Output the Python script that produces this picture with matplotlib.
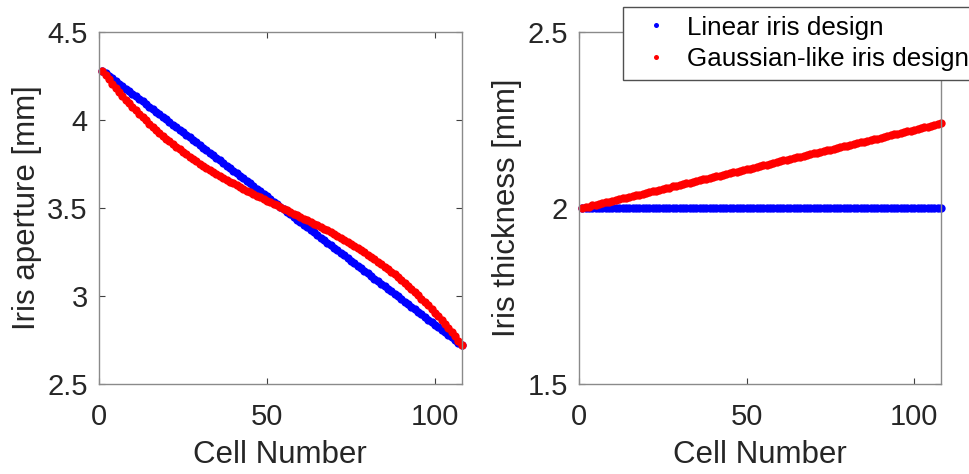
import numpy as np
import matplotlib
matplotlib.use('Agg')
import matplotlib.pyplot as plt

plt.rcParams['font.family'] = ['Liberation Sans', 'DejaVu Sans']

cells = list(range(1, 109))

# iris aperture [mm]
aperture_linear = [
    4.280, 4.265, 4.251, 4.236, 4.222, 4.207, 4.193, 4.178, 4.163, 4.149,
    4.134, 4.120, 4.105, 4.090, 4.076, 4.061, 4.047, 4.032, 4.018, 4.003,
    3.988, 3.974, 3.959, 3.945, 3.930, 3.916, 3.901, 3.886, 3.872, 3.857,
    3.843, 3.828, 3.813, 3.799, 3.784, 3.770, 3.755, 3.741, 3.726, 3.711,
    3.697, 3.682, 3.668, 3.653, 3.639, 3.624, 3.609, 3.595, 3.580, 3.566,
    3.551, 3.536, 3.522, 3.507, 3.493, 3.478, 3.464, 3.449, 3.434, 3.420,
    3.405, 3.391, 3.376, 3.362, 3.347, 3.332, 3.318, 3.303, 3.289, 3.274,
    3.259, 3.245, 3.230, 3.216, 3.201, 3.187, 3.172, 3.157, 3.143, 3.128,
    3.114, 3.099, 3.085, 3.070, 3.055, 3.041, 3.026, 3.012, 2.997, 2.982,
    2.968, 2.953, 2.939, 2.924, 2.910, 2.895, 2.880, 2.866, 2.851, 2.837,
    2.822, 2.807, 2.793, 2.778, 2.764, 2.749, 2.735, 2.720]

aperture_gauss = [
    4.280, 4.255, 4.230, 4.206, 4.183, 4.160, 4.138, 4.116, 4.095, 4.074,
    4.054, 4.035, 4.015, 3.997, 3.978, 3.961, 3.943, 3.926, 3.910, 3.894,
    3.878, 3.863, 3.848, 3.833, 3.819, 3.805, 3.791, 3.778, 3.765, 3.752,
    3.740, 3.728, 3.716, 3.704, 3.693, 3.681, 3.670, 3.660, 3.649, 3.639,
    3.628, 3.618, 3.608, 3.598, 3.589, 3.579, 3.569, 3.560, 3.551, 3.541,
    3.532, 3.523, 3.514, 3.505, 3.495, 3.486, 3.477, 3.468, 3.459, 3.449,
    3.440, 3.431, 3.421, 3.411, 3.402, 3.392, 3.382, 3.372, 3.361, 3.351,
    3.340, 3.330, 3.319, 3.307, 3.296, 3.284, 3.272, 3.260, 3.248, 3.235,
    3.222, 3.209, 3.195, 3.181, 3.167, 3.152, 3.137, 3.122, 3.106, 3.090,
    3.074, 3.057, 3.039, 3.022, 3.003, 2.985, 2.965, 2.946, 2.926, 2.905,
    2.884, 2.862, 2.840, 2.817, 2.794, 2.770, 2.745, 2.720]

# iris thickness [mm]
thick_linear = [2.0] * 108

thick_gauss = [
    2.000, 2.002, 2.004, 2.007, 2.009, 2.011, 2.013, 2.016, 2.018, 2.020,
    2.022, 2.025, 2.027, 2.029, 2.031, 2.034, 2.036, 2.038, 2.040, 2.043,
    2.045, 2.047, 2.049, 2.052, 2.054, 2.056, 2.058, 2.061, 2.063, 2.065,
    2.067, 2.070, 2.072, 2.074, 2.076, 2.079, 2.081, 2.083, 2.085, 2.087,
    2.090, 2.092, 2.094, 2.096, 2.099, 2.101, 2.103, 2.105, 2.108, 2.110,
    2.112, 2.114, 2.117, 2.119, 2.121, 2.123, 2.126, 2.128, 2.130, 2.132,
    2.135, 2.137, 2.139, 2.141, 2.144, 2.146, 2.148, 2.150, 2.153, 2.155,
    2.157, 2.159, 2.161, 2.164, 2.166, 2.168, 2.170, 2.173, 2.175, 2.177,
    2.179, 2.182, 2.184, 2.186, 2.188, 2.191, 2.193, 2.195, 2.197, 2.200,
    2.202, 2.204, 2.206, 2.209, 2.211, 2.213, 2.215, 2.218, 2.220, 2.222,
    2.224, 2.227, 2.229, 2.231, 2.233, 2.236, 2.238, 2.240]

x_ticks = [0, 50, 100]
ap_ticks = [2.5, 3, 3.5, 4, 4.5]
ap_labels = ['2.5', '3', '3.5', '4', '4.5']
th_ticks = [1.5, 2, 2.5]
th_labels = ['1.5', '2', '2.5']

tick_fs = 21
label_fs = 22.5
spine_col = '#8a8a8a'
text_col = '#262626'
ms = 6

fig = plt.figure(figsize=(9.69, 4.74), dpi=100)
ax1 = fig.add_axes([0.102, 0.19, 0.3746, 0.7426])
ax2 = fig.add_axes([0.5975, 0.19, 0.3736, 0.7426])


def style(ax, yt, yl, ylab):
    ax.set_xlim(0, 108)
    ax.set_xticks(x_ticks)
    ax.set_xticklabels([str(t) for t in x_ticks])
    ax.set_ylim(yt[0], yt[-1])
    ax.set_yticks(yt)
    ax.set_yticklabels(yl)
    for s in ax.spines.values():
        s.set_color(spine_col)
        s.set_linewidth(1.0)
    ax.tick_params(direction='in', length=4, width=0.8, color='#404040',
                   labelsize=tick_fs, labelcolor=text_col,
                   top=True, right=True)
    ax.tick_params(axis='x', pad=14)
    ax.tick_params(axis='y', pad=8)
    ax.set_xlabel('Cell Number', fontsize=label_fs, color=text_col, labelpad=6)
    ax.set_ylabel(ylab, fontsize=label_fs, color=text_col, labelpad=4)


ax1.plot(cells, aperture_linear, 'o', color='#0000ff', ms=ms, mew=0,
         label='Linear iris design', clip_on=False)
ax1.plot(cells, aperture_gauss, 'o', color='#ff0000', ms=ms, mew=0,
         label='Gaussian-like iris design', clip_on=False)
style(ax1, ap_ticks, ap_labels, 'Iris aperture [mm]')

ax2.plot(cells, thick_linear, 'o', color='#0000ff', ms=ms, mew=0,
         label='Linear iris design', clip_on=False)
ax2.plot(cells, thick_gauss, 'o', color='#ff0000', ms=ms, mew=0,
         label='Gaussian-like iris design', clip_on=False)
style(ax2, th_ticks, th_labels, 'Iris thickness [mm]')

leg = ax2.legend(loc='upper left', bbox_to_anchor=(622.7 / 969, 1 - 6.7 / 474),
                 bbox_transform=fig.transFigure, fontsize=18.7, frameon=True,
                 fancybox=False, framealpha=1, edgecolor='#505050',
                 borderaxespad=0, borderpad=0.34, labelspacing=0.3,
                 handlelength=1.85, handletextpad=0.3, markerscale=0.6)
leg.get_frame().set_linewidth(1.0)
for t in leg.get_texts():
    t.set_color('#000000')

fig.savefig('out.png', dpi=100)
